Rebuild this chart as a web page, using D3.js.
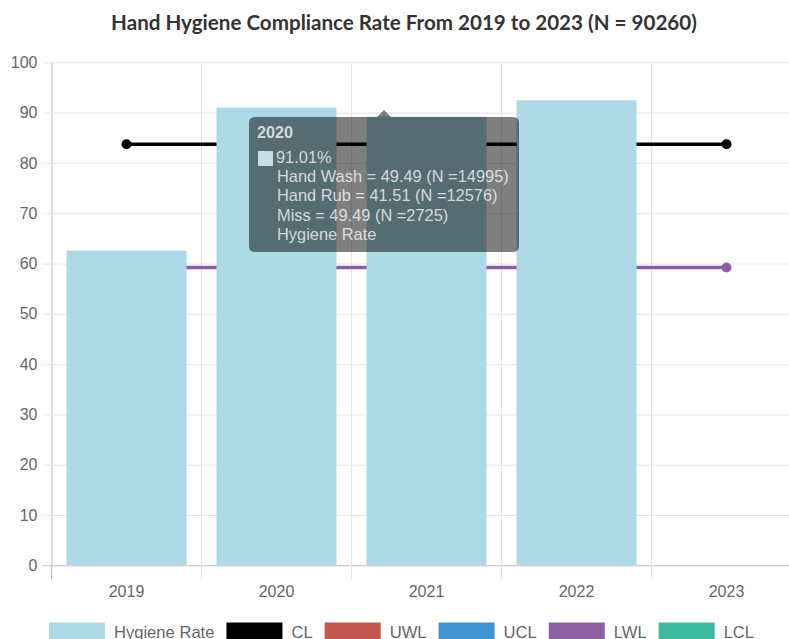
<!DOCTYPE html>
<html>
<head>
<meta charset="utf-8">
<script src="https://cdn.jsdelivr.net/npm/d3@7"></script>
<style>
  body { margin: 0; overflow: hidden; background: #fff; }
  text { font-family: "Liberation Sans", Arial, sans-serif; }
</style>
</head>
<body>
<script>
// chart data
let years = ["2019", "2020", "2021", "2022", "2023"];
let hygieneRate = [62.55, 91.01, 89.2, 92.45, null];
let clValues = [83.7, 83.7, 83.7, 83.7, 83.7];
let uwlValues = [null, null, null, null, null];
let uclValues = [null, null, null, null, null];
let lwlValues = [59.2, 59.2, 59.2, 59.2, 59.2];
let lclValues = [null, null, null, null, null];
let yTicks = [0, 10, 20, 30, 40, 50, 60, 70, 80, 90, 100];
let titleText = "Hand Hygiene Compliance Rate From 2019 to 2023 (N = 90260)";
let tipTitle = "2020";
let tipValue = "91.01%";
let tipLines = ["Hand Wash = 49.49 (N =14995)", "Hand Rub = 41.51 (N =12576)", "Miss = 49.49 (N =2725)", "Hygiene Rate"];

let w = 808, h = 639;
let plotLeft = 51.5, plotRight = 801.5, plotTop = 62.3, plotBottom = 565.3;

let svg = d3.select("body").append("svg")
    .attr("width", w)
    .attr("height", h);

// scales
let x = d3.scaleBand().domain(years).range([plotLeft, plotRight]).padding(0);
let xBar = d3.scaleBand().domain(years).range([plotLeft, plotRight]).paddingInner(0.2).paddingOuter(0.1);
let y = d3.scaleLinear().domain([0, 100]).range([plotBottom, plotTop]);

// title
svg.append("text")
    .attr("x", 404).attr("y", 30)
    .attr("text-anchor", "middle")
    .style("font-family", "Lato, sans-serif")
    .style("font-weight", "bold")
    .style("font-size", "20.6px")
    .attr("fill", "#333")
    .text(titleText);

// horizontal grid + y ticks
let yAxis = svg.append("g")
    .attr("transform", "translate(" + plotLeft + ",0)")
    .call(d3.axisLeft(y).tickValues(yTicks).tickSize(9).tickPadding(5).tickSizeOuter(0));
yAxis.select(".domain").attr("stroke", "#bfbfbf");
yAxis.selectAll(".tick line").attr("stroke", function (d) { return d == 0 ? "#bfbfbf" : "#e6e6e6"; });
yAxis.selectAll(".tick line").clone()
    .attr("x1", 0).attr("x2", plotRight - plotLeft);
yAxis.selectAll(".tick text").attr("fill", "#666").style("font-size", "16px")
    .style("font-family", "'Liberation Sans', Arial, sans-serif");

// vertical grid lines at band edges
let edges = years.map(function (d) { return x(d); }).concat([plotRight]);
svg.append("g").selectAll("line").data(edges.slice(1)).enter().append("line")
    .attr("x1", function (d) { return d; }).attr("x2", function (d) { return d; })
    .attr("y1", plotTop).attr("y2", plotBottom + 14)
    .attr("stroke", "#e6e6e6");
svg.append("line")
    .attr("x1", plotLeft).attr("x2", plotLeft).attr("y1", plotBottom).attr("y2", plotBottom + 14)
    .attr("stroke", "#bfbfbf");

// x labels
svg.append("g").selectAll("text").data(years).enter().append("text")
    .attr("x", function (d) { return x(d) + x.bandwidth() / 2; })
    .attr("y", 597)
    .attr("text-anchor", "middle")
    .attr("fill", "#666")
    .style("font-size", "16px")
    .text(function (d) { return d; });

// control lines (behind bars)
let lineSets = [
    { name: "CL", color: "#000000", values: clValues },
    { name: "UWL", color: "#c45850", values: uwlValues },
    { name: "UCL", color: "#3e95cd", values: uclValues },
    { name: "LWL", color: "#8e5ea2", values: lwlValues },
    { name: "LCL", color: "#3cba9f", values: lclValues }
];
let line = d3.line()
    .defined(function (d) { return d != null; })
    .x(function (d, i) { return x(years[i]) + x.bandwidth() / 2; })
    .y(function (d) { return y(d); });

lineSets.forEach(function (s) {
    svg.append("path")
        .attr("d", line(s.values))
        .attr("fill", "none")
        .attr("stroke", s.color)
        .attr("stroke-width", 3.5);
    svg.append("g").selectAll("circle")
        .data(s.values.map(function (v, i) { return { v: v, i: i }; }).filter(function (d) { return d.v != null; }))
        .enter().append("circle")
        .attr("cx", function (d) { return x(years[d.i]) + x.bandwidth() / 2; })
        .attr("cy", function (d) { return y(d.v); })
        .attr("r", 5)
        .attr("fill", s.color);
});

// bars
svg.append("g").selectAll("rect")
    .data(hygieneRate.map(function (v, i) { return { v: v, year: years[i] }; }).filter(function (d) { return d.v != null; }))
    .enter().append("rect")
    .attr("x", function (d) { return xBar(d.year); })
    .attr("width", xBar.bandwidth())
    .attr("y", function (d) { return y(d.v); })
    .attr("height", function (d) { return y(0) - y(d.v); })
    .attr("fill", "#add8e6");

// legend
let legendItems = [{ name: "Hygiene Rate", color: "#add8e6" }].concat(lineSets);
let legend = svg.append("g");
let lx = 0;
legendItems.forEach(function (d) {
    let g = legend.append("g").attr("transform", "translate(" + lx + ",0)");
    g.append("rect").attr("x", 0).attr("y", 622.5).attr("width", 56).attr("height", 18).attr("fill", d.color);
    let t = g.append("text").attr("x", 65).attr("y", 637.5).attr("fill", "#666")
        .style("font-size", "16.6px").text(d.name);
    lx += 65 + t.node().getComputedTextLength() + 12;
});
legend.attr("transform", "translate(" + (401.5 - (lx - 12) / 2) + ",0)");

// tooltip overlay
let tip = svg.append("g");
let tx = 249, ty = 117, tw = 270, th = 135, caretX = 384;
tip.append("path")
    .attr("d", "M" + (tx + 6) + "," + ty + " L" + (caretX - 7) + "," + ty + " L" + caretX + "," + (ty - 7) +
        " L" + (caretX + 7) + "," + ty + " L" + (tx + tw - 6) + "," + ty +
        " Q" + (tx + tw) + "," + ty + " " + (tx + tw) + "," + (ty + 6) +
        " L" + (tx + tw) + "," + (ty + th - 6) +
        " Q" + (tx + tw) + "," + (ty + th) + " " + (tx + tw - 6) + "," + (ty + th) +
        " L" + (tx + 6) + "," + (ty + th) +
        " Q" + tx + "," + (ty + th) + " " + tx + "," + (ty + th - 6) +
        " L" + tx + "," + (ty + 6) +
        " Q" + tx + "," + ty + " " + (tx + 6) + "," + ty + " Z")
    .attr("fill", "rgba(0,0,0,0.5)");
tip.append("text").attr("x", tx + 8).attr("y", ty + 21)
    .attr("fill", "#fff").attr("fill-opacity", 0.75)
    .style("font-size", "16.2px").style("font-weight", "bold").text(tipTitle);
tip.append("rect").attr("x", tx + 9).attr("y", ty + 34).attr("width", 15).attr("height", 15)
    .attr("fill", "#c3dfe8");
tip.append("text").attr("x", tx + 27).attr("y", ty + 46)
    .attr("fill", "#fff").attr("fill-opacity", 0.75)
    .style("font-size", "16.4px").text(tipValue);
tip.append("g").selectAll("text").data(tipLines).enter().append("text")
    .attr("x", tx + 28)
    .attr("y", function (d, i) { return ty + 65 + i * 19.4; })
    .attr("fill", "#fff").attr("fill-opacity", 0.75)
    .style("font-size", "16.4px")
    .text(function (d) { return d; });
</script>
</body>
</html>
